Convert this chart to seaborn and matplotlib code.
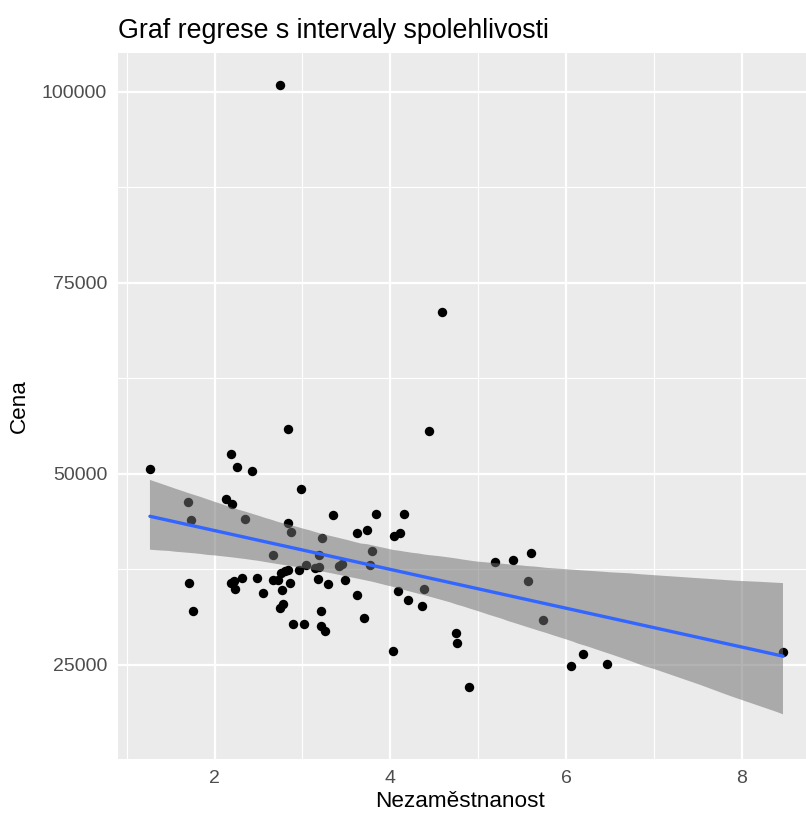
import matplotlib
matplotlib.use("Agg")
import matplotlib.pyplot as plt
import seaborn as sns
import pandas as pd
from matplotlib.ticker import FixedLocator, FuncFormatter

# Unemployment rate (%) and price per district
nezamestnanost = [
    1.265, 2.746, 4.593, 2.182, 2.253, 2.424, 2.837, 2.985, 1.697, 1.735,
    2.125, 2.201, 2.349, 2.837, 2.871, 3.344, 3.616, 3.730, 3.840, 4.161,
    4.048, 4.109, 3.227, 3.193, 2.664, 3.794, 3.768, 3.041, 3.141, 3.187,
    3.420, 3.454, 2.965, 2.761, 2.798, 2.835, 2.480, 2.187, 2.227, 2.238,
    2.315, 2.557, 2.664, 2.719, 2.855, 2.764, 3.173, 3.287, 3.488, 3.621,
    2.750, 2.776, 3.210, 3.698, 2.892, 3.024, 3.207, 3.252, 1.713, 1.750,
    4.090, 4.200, 4.366, 4.388, 4.033, 4.743, 4.763, 4.893, 5.191, 5.396,
    5.604, 5.563, 5.737, 6.054, 6.199, 6.463, 8.470, 4.442,
]
cena = [
    50615, 100849, 71115, 52582, 50877, 50392, 55862, 48031, 46326, 43965,
    46772, 46063, 44148, 43532, 42391, 44581, 42220, 42653, 44804, 44804,
    41919, 42220, 41565, 39335, 39374, 39860, 38023, 38115, 37700, 37800,
    37984, 38154, 37367, 37013, 37236, 37433, 36384, 35754, 35925, 34876,
    36384, 34390, 36161, 36095, 35702, 34836, 36187, 35531, 36148, 34220,
    32423, 32947, 32029, 31177, 30324, 30324, 30127, 29459, 35702, 32029,
    34652, 33564, 32685, 34876, 26835, 29235, 27924, 22114, 38521, 38718,
    39597, 35925, 30941, 24907, 26442, 25078, 26651, 55560,
]

df = pd.DataFrame({"Nezaměstnanost": nezamestnanost, "Cena": cena})

sns.set_theme(style="darkgrid")
plt.rcParams["font.family"] = ["Liberation Sans", "DejaVu Sans"]

fig = plt.figure(figsize=(8.06, 8.19), dpi=100)
ax = fig.add_axes([0.1468, 0.0733, 0.8639, 0.862])
ax.set_facecolor("#EBEBEB")

# points first, the confidence band sits on top of them
sns.scatterplot(data=df, x="Nezaměstnanost", y="Cena", ax=ax,
                color="black", s=46, linewidth=0, zorder=2)
sns.regplot(data=df, x="Nezaměstnanost", y="Cena", ax=ax, scatter=False,
            ci=97, n_boot=2000, seed=7, truncate=True, color="#3366FF",
            line_kws={"linewidth": 2.4, "zorder": 4})
band = ax.collections[-1]
band.set_facecolor("#717171")
band.set_edgecolor("none")
band.set_alpha(0.53)
band.set_zorder(3)

ax.set_xlim(0.905, 8.83)
ax.set_ylim(12709, 105046)

ax.xaxis.set_major_locator(FixedLocator([2, 4, 6, 8]))
ax.xaxis.set_minor_locator(FixedLocator([1, 3, 5, 7]))
ax.yaxis.set_major_locator(FixedLocator([25000, 50000, 75000, 100000]))
ax.yaxis.set_minor_locator(FixedLocator([37500, 62500, 87500]))
ax.yaxis.set_major_formatter(FuncFormatter(lambda v, p: f"{int(v)}"))

ax.grid(which="major", color="white", linewidth=1.6)
ax.grid(which="minor", color="white", linewidth=0.8)
ax.set_axisbelow(True)
for s in ax.spines.values():
    s.set_visible(False)

ax.tick_params(axis="both", which="major", length=5, width=1.2,
               color="#333333", labelcolor="#4D4D4D", labelsize=14, pad=3)
ax.tick_params(axis="both", which="minor", length=0)

ax.set_xlabel("Nezaměstnanost", fontsize=16.2, color="black", labelpad=3)
ax.set_ylabel("Cena", fontsize=16.2, color="black", labelpad=9)
ax.xaxis.set_label_coords(0.49, -0.045)
ax.set_title("Graf regrese s intervaly spolehlivosti", fontsize=19.3,
             loc="left", color="black", pad=11)

fig.savefig("out.png", dpi=100, facecolor="white")
